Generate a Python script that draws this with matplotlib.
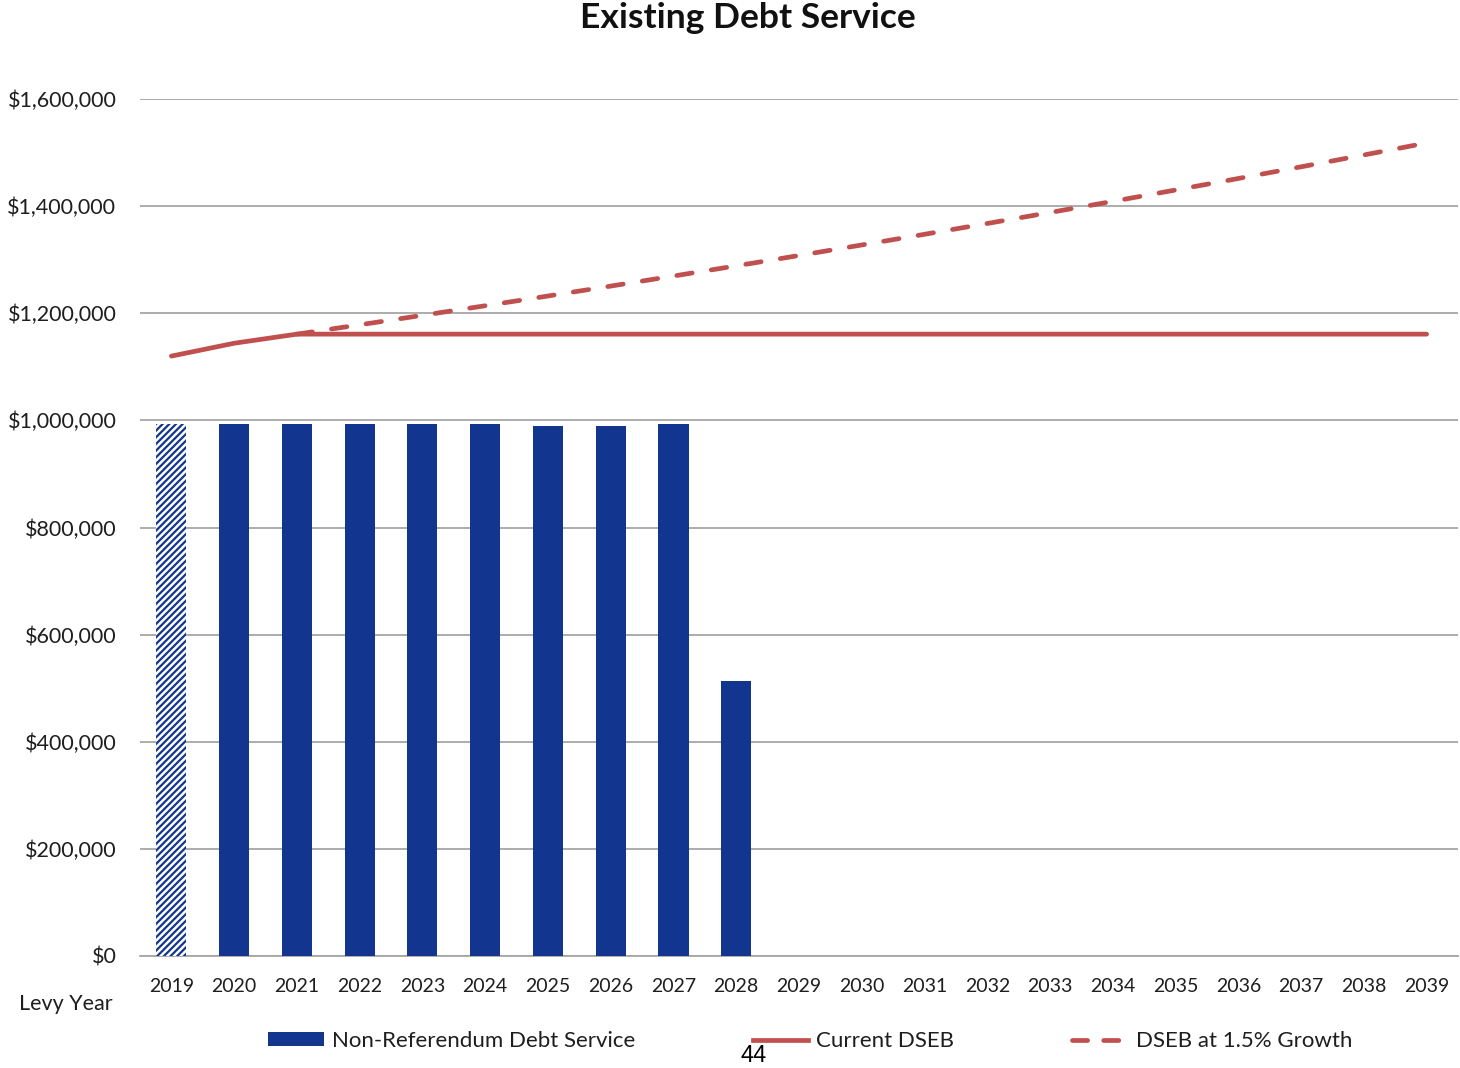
import matplotlib
matplotlib.use("Agg")
import matplotlib.pyplot as plt
from matplotlib.patches import Patch
from matplotlib.lines import Line2D
from matplotlib.ticker import FuncFormatter

years = [str(y) for y in range(2019, 2040)]
non_ref = [993000, 993000, 993000, 993000, 993000, 993000, 990000, 990000, 993000, 513000,
           0, 0, 0, 0, 0, 0, 0, 0, 0, 0, 0]
current_dseb = [1120000, 1144000, 1161000] + [1161000] * 18
growth_years = years[2:]
growth_dseb = [1161000, 1178400, 1196100, 1214000, 1232200, 1250700, 1269500, 1288500,
               1307800, 1327500, 1347400, 1367600, 1388100, 1408900, 1430100, 1451600,
               1473400, 1495500, 1517900]

BLUE = "#12368F"
RED = "#C0504D"
GRID = "#A6A6A6"
TXT = "#1E1E1E"
FONT = "Lato"

plt.rcParams['font.family'] = [FONT, 'DejaVu Sans']
plt.rcParams['hatch.linewidth'] = 1.6

fig = plt.figure(figsize=(14.6, 10.68), dpi=100)
ax = fig.add_axes([140/1460, 1-956/1068, (1458-140)/1460, (956-99)/1068])

x = list(range(len(years)))
bars = ax.bar(x, non_ref, width=0.48, color=BLUE, zorder=3)
bars[0].set_facecolor("white")
bars[0].set_edgecolor(BLUE)
bars[0].set_hatch("/////")
bars[0].set_linewidth(0)

LW = 3.4
ax.plot(x, current_dseb, color=RED, lw=LW, zorder=4, solid_capstyle='round')
gx = [years.index(y) for y in growth_years]
ax.plot(gx, growth_dseb, color=RED, lw=LW, dashes=(3.3, 4.1), dash_capstyle='round', zorder=4)

ax.set_xlim(-0.5, len(years) - 0.5)
ax.set_ylim(0, 1600000)
ax.set_yticks(range(0, 1600001, 200000))
ax.yaxis.set_major_formatter(FuncFormatter(lambda v, p: "${:,.0f}".format(v)))
ax.set_xticks(x)
ax.set_xticklabels(years)
ax.grid(axis='y', color=GRID, lw=1.3, zorder=0)
ax.set_axisbelow(True)
for s in ['left', 'right', 'top']:
    ax.spines[s].set_visible(False)
ax.spines['bottom'].set_color(GRID)
ax.spines['bottom'].set_linewidth(1.3)
ax.tick_params(axis='x', length=0, labelsize=14, colors=TXT, pad=16)
ax.tick_params(axis='y', length=0, labelsize=15.5, colors=TXT, pad=17)

fig.text(748/1460, 1-18/1068, "Existing Debt Service", ha='center', va='center',
         fontsize=25.5, fontweight='bold', color='#111111')
fig.text(66/1460, 1-1004/1068, "Levy Year", ha='center', va='center', fontsize=15.5,
         color=TXT)

handles = [Patch(facecolor=BLUE, edgecolor='none'),
           Line2D([0], [0], color=RED, lw=LW),
           Line2D([0], [0], color=RED, lw=LW, dashes=(3.2, 3.4), dash_capstyle='round')]
labels = ["Non-Referendum Debt Service", "Current DSEB", "DSEB at 1.5% Growth"]
fig.legend(handles, labels, loc='center', bbox_to_anchor=(810/1460, 1-1041/1068), ncol=3,
           frameon=False, fontsize=16, handlelength=2.5, handleheight=0.55,
           columnspacing=5.3, handletextpad=0.36, labelcolor=TXT)

fig.text(754/1460, 1-1056/1068, "44", ha='center', va='center', fontsize=17,
         family=['Liberation Sans', 'DejaVu Sans'], color='black')

fig.savefig("out.png", dpi=100)
